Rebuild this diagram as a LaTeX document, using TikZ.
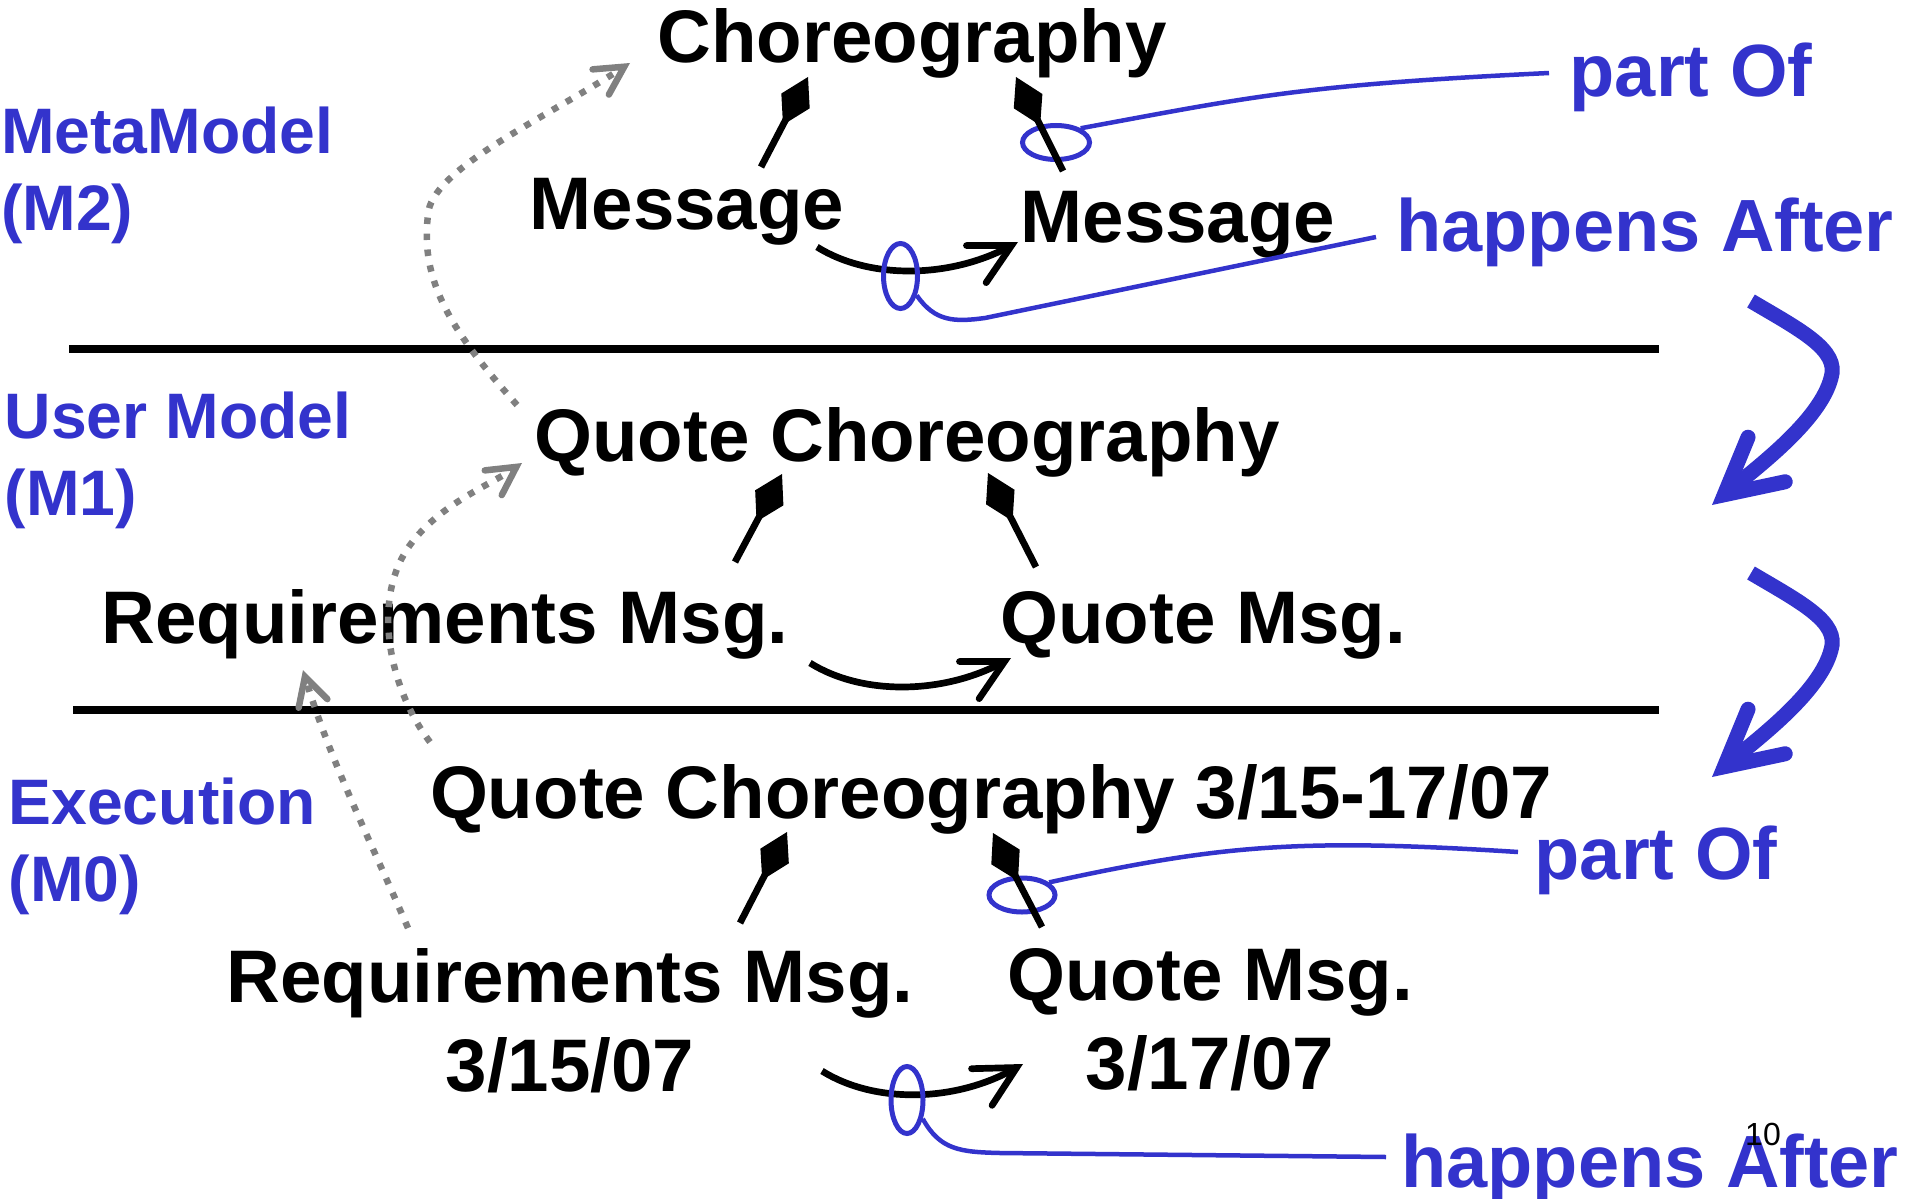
\documentclass[tikz,border=0pt]{standalone}
\usepackage{fontspec}
\setmainfont{Liberation Sans}
\usetikzlibrary{arrows.meta,shapes.geometric}
\definecolor{lblue}{RGB}{51,51,204}
\definecolor{dgray}{RGB}{128,128,128}
\begin{document}
\begin{tikzpicture}[x=1pt,y=-1pt,
  big/.style={font=\fontsize{74.5}{89}\selectfont\bfseries, inner sep=0pt},
  lbl/.style={font=\fontsize{64.3}{77}\selectfont\bfseries, text=lblue, inner sep=0pt, align=left},
  note/.style={font=\fontsize{74}{89}\selectfont\bfseries, text=lblue, inner sep=0pt},
  comp/.style={line width=6.7pt, -{Diamond[length=54pt,width=32pt]}},
  flow/.style={line width=6.7pt, -{Straight Barb[length=40pt,width=42pt,line cap=round,line join=miter]}},
  trace/.style={dgray, line width=6.5pt, dash pattern=on 6.5pt off 9.5pt, -{Straight Barb[length=28pt,width=30pt,line cap=round,line join=miter]}},
  lead/.style={lblue, line width=4.5pt},
  ring/.style={ellipse, draw=lblue, line width=5pt, inner sep=0pt},
  level/.style={line width=8pt},
  lift/.style={lblue, line width=15pt, -{Straight Barb[length=55pt,width=58pt,line cap=round,line join=miter]}},
]
\useasboundingbox (0,0) rectangle (1909,1199);

% level separators
\coordinate (l1a) at (69,349); \coordinate (l1b) at (1659,349);
\coordinate (l2a) at (73,710); \coordinate (l2b) at (1659,710);
\draw[level] (l1a) -- (l1b);
\draw[level] (l2a) -- (l2b);

% black texts
\node[big, anchor=base] (chor) at (912,63) {Choreography};
\node[big, anchor=base] (msgA) at (687,229) {Message};
\node[big, anchor=base] (msgB) at (1178,242) {Message};
\node[big, anchor=base] (qc) at (907,461) {Quote Choreography};
\node[big, anchor=base] (reqA) at (445,643) {Requirements Msg.};
\node[big, anchor=base] (qmA) at (1203,643) {Quote Msg.};
\node[big, anchor=base] (qcx) at (991,818) {Quote Choreography 3/15-17/07};
\node[big, anchor=north, align=center] (reqB) at (570,948.5) {Requirements Msg.\\3/15/07};
\node[big, anchor=north, align=center] (qmB) at (1210,948.5) {Quote Msg.\\3/17/07};

% level labels
\node[lbl, anchor=north west] (m2) at (1,107) {MetaModel\\(M2)};
\node[lbl, anchor=north west] (m1) at (4.5,392) {User Model\\(M1)};
\node[lbl, anchor=north west] (m0) at (8.4,778) {Execution\\(M0)};

% notes
\node[note, anchor=base] (po1) at (1691,96) {part Of};
\node[note, anchor=base] (ha1) at (1645,251) {happens After};
\node[note, anchor=base] (po2) at (1656,879) {part Of};
\node[note, anchor=base] (ha2) at (1650,1187) {happens After};

% happens-after arrows
\coordinate (f1s) at (817,247); \coordinate (f1e) at (1018,242);
\coordinate (f2s) at (810,663); \coordinate (f2e) at (1011,658);
\coordinate (f3s) at (822,1071); \coordinate (f3e) at (1023,1064);
\draw[flow] (f1s) .. controls (870,280) and (950,278) .. (f1e);
\draw[flow] (f2s) .. controls (863,696) and (943,694) .. (f2e);
\draw[flow] (f3s) .. controls (875,1104) and (955,1102) .. (f3e);

% rings
\node[ring, minimum width=67pt, minimum height=34pt] (r1) at (1056,142.5) {};
\node[ring, minimum width=34pt, minimum height=65pt] (r2) at (900.5,276) {};
\node[ring, minimum width=66pt, minimum height=34pt] (r3) at (1022,895) {};
\node[ring, minimum width=32pt, minimum height=67pt] (r4) at (907,1100) {};

% part-of compositions
\coordinate (c1s) at (761,167); \coordinate (c1e) at (808,77);
\coordinate (c2s) at (1063,171); \coordinate (c2e) at (1016,77);
\coordinate (c3s) at (735,562); \coordinate (c3e) at (782,474);
\coordinate (c4s) at (1036,567); \coordinate (c4e) at (988,473);
\coordinate (c5s) at (740,923); \coordinate (c5e) at (787,832);
\coordinate (c6s) at (1042,927); \coordinate (c6e) at (993,833);
\draw[comp] (c1s) -- (c1e);
\draw[comp] (c2s) -- (c2e);
\draw[comp] (c3s) -- (c3e);
\draw[comp] (c4s) -- (c4e);
\draw[comp] (c5s) -- (c5e);
\draw[comp] (c6s) -- (c6e);

% leaders
\coordinate (po1t) at (1549,73);
\coordinate (ha1t) at (1376,237);
\coordinate (po2t) at (1518,852);
\coordinate (ha2t) at (1386,1157);
\draw[lead] (r1.30) .. controls (1250,97) and (1300,85) .. (po1t);
\draw[lead] (r2.-50) .. controls (935,322) and (955,322) .. (985,318) -- (ha1t);
\draw[lead] (r3.25) .. controls (1220,845) and (1300,838) .. (po2t);
\draw[lead] (r4.-50) .. controls (940,1150) and (960,1152) .. (1000,1153) -- (ha2t);

% instance-of traces
\coordinate (t1s) at (517,405); \coordinate (t1e) at (630,63);
\coordinate (t2s) at (430,742); \coordinate (t2e) at (522,463);
\coordinate (t3s) at (408,928); \coordinate (t3e) at (303,670);
\draw[trace] (t1s) .. controls (450,330) and (420,280) .. (428,215) .. controls (430,170) and (542,120) .. (t1e);
\draw[trace] (t2s) .. controls (390,690) and (370,600) .. (410,545) .. controls (440,504) and (490,485) .. (t2e);
\draw[trace] (t3s) .. controls (370,840) and (330,760) .. (t3e);

% big blue arrows
\coordinate (b1s) at (1751,301); \coordinate (b1e) at (1712,505);
\coordinate (b2s) at (1751,573); \coordinate (b2e) at (1712,777);
\draw[lift] (b1s) .. controls (1800,330) and (1840,350) .. (1831,378) .. controls (1820,420) and (1760,465) .. (b1e);
\draw[lift] (b2s) .. controls (1800,602) and (1840,622) .. (1831,650) .. controls (1820,692) and (1760,737) .. (b2e);

% page number
\node[font=\fontsize{32}{36}\selectfont, inner sep=0pt, anchor=base] (pg) at (1763,1145) {10};
\end{tikzpicture}
\end{document}
